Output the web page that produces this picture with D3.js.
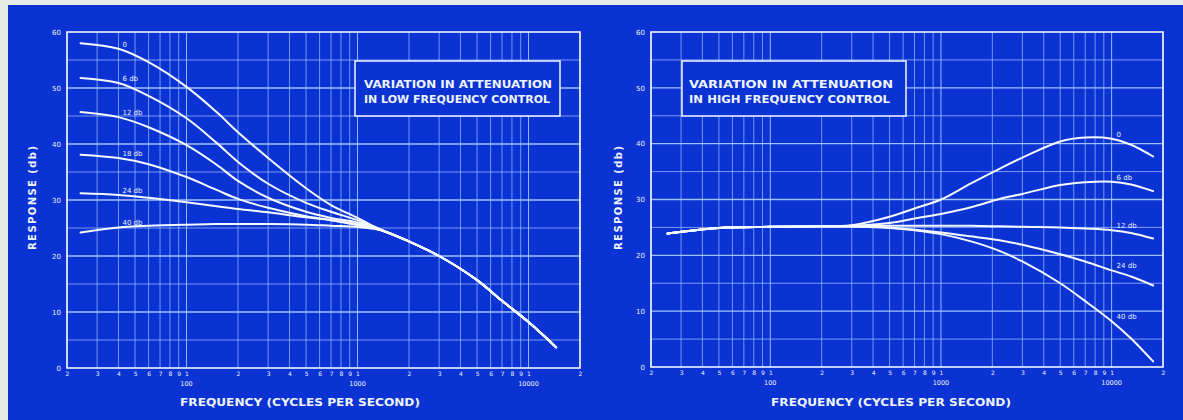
<!DOCTYPE html>
<html>
<head>
<meta charset="utf-8">
<script src="https://cdn.jsdelivr.net/npm/d3@7/dist/d3.min.js"></script>
<style>
  body { margin: 0; background: #e6ebe6; }
  svg { display: block; }
  text { font-family: "DejaVu Sans", sans-serif; fill: #eef4ff; }
</style>
</head>
<body>
<svg id="chart" width="1183" height="420"></svg>
<script>
// ---- data (frequency in cycles per second, response in db) ----
var lowFreq = [24, 40, 60, 100, 150, 200, 300, 500, 700, 1000, 1250, 1500, 2000, 3000, 5000, 7000, 10000, 14500];
var low0  = [58.0, 57.0, 54.6, 50.2, 45.7, 42.1, 37.5, 32.1, 29.1, 26.8, 25.3, 24.2, 22.6, 20.0, 15.7, 12.0, 8.2, 3.7];
var low6  = [51.8, 50.9, 48.6, 44.6, 40.2, 36.8, 32.9, 29.5, 27.9, 26.4, 25.2, 24.2, 22.6, 20.0, 15.7, 12.0, 8.2, 3.7];
var low12 = [45.7, 44.8, 43.0, 39.8, 36.3, 33.4, 30.4, 27.9, 26.8, 26.0, 25.1, 24.2, 22.6, 20.0, 15.7, 12.0, 8.2, 3.7];
var low18 = [38.1, 37.5, 36.4, 34.1, 31.8, 30.2, 28.6, 27.1, 26.4, 25.7, 25.0, 24.2, 22.6, 20.0, 15.7, 12.0, 8.2, 3.7];
var low24 = [31.2, 30.9, 30.4, 29.6, 28.9, 28.4, 27.8, 26.9, 26.4, 25.5, 24.95, 24.2, 22.6, 20.0, 15.7, 12.0, 8.2, 3.7];
var low40 = [24.2, 25.1, 25.4, 25.6, 25.7, 25.7, 25.7, 25.6, 25.4, 25.2, 24.85, 24.2, 22.6, 20.0, 15.7, 12.0, 8.2, 3.7];
var lowNames = ["0", "6 db", "12 db", "18 db", "24 db", "40 db"];

var highFreq = [25, 50, 100, 200, 300, 500, 700, 1000, 1500, 2200, 3000, 5000, 7000, 10000, 13000, 17500];
var high0  = [23.9, 24.9, 25.1, 25.2, 25.4, 26.9, 28.4, 30.0, 32.9, 35.5, 37.5, 40.4, 41.1, 40.9, 39.8, 37.7];
var high6  = [23.9, 24.9, 25.1, 25.2, 25.3, 25.8, 26.6, 27.4, 28.6, 30.1, 31.0, 32.6, 33.1, 33.2, 32.7, 31.5];
var high12 = [23.9, 24.9, 25.1, 25.2, 25.3, 25.3, 25.3, 25.3, 25.3, 25.2, 25.1, 25.0, 24.8, 24.5, 24.0, 23.0];
var high24 = [23.9, 24.9, 25.1, 25.2, 25.15, 24.95, 24.6, 24.1, 23.4, 22.7, 21.9, 20.2, 18.9, 17.3, 16.2, 14.6];
var high40 = [23.9, 24.9, 25.1, 25.2, 25.15, 24.9, 24.5, 23.8, 22.5, 20.8, 18.9, 15.0, 11.8, 8.2, 5.1, 1.0];
var highNames = ["0", "6 db", "12 db", "24 db", "40 db"];

var yTickLabels = ["0", "10", "20", "30", "40", "50", "60"];
var decadeLabels = ["100", "1000", "10000"];

var blue = "#0b32d2";
var svg = d3.select("#chart");
svg.append("rect")
	.attr("x", 8).attr("y", 5)
	.attr("width", 1175).attr("height", 415)
	.attr("fill", blue);

function panel(p) {
	var x = d3.scaleLog().domain([20, 20000]).range([p.left, p.right]);
	var y = d3.scaleLinear().domain([0, 60]).range([p.bottom, p.top]);
	var g = svg.append("g");

	// grid
	g.selectAll(".vg").data(x.ticks()).enter().append("line")
		.attr("x1", function (d) { return x(d); })
		.attr("x2", function (d) { return x(d); })
		.attr("y1", p.top).attr("y2", p.bottom)
		.attr("stroke", "#9cc2ff")
		.attr("stroke-opacity", function (d) { return String(d).charAt(0) == "1" ? 0.95 : 0.7; })
		.attr("stroke-width", 1);

	g.selectAll(".hg").data(d3.range(5, 60, 5)).enter().append("line")
		.attr("x1", p.left).attr("x2", p.right)
		.attr("y1", function (d) { return y(d); })
		.attr("y2", function (d) { return y(d); })
		.attr("stroke", "#a8c8ff")
		.attr("stroke-opacity", function (d) { return d % 10 == 0 ? 0.95 : 0.7; })
		.attr("stroke-width", function (d) { return d % 10 == 0 ? 1.3 : 1; });

	// frame
	g.append("rect")
		.attr("x", p.left).attr("y", p.top)
		.attr("width", p.right - p.left).attr("height", p.bottom - p.top)
		.attr("fill", "none").attr("stroke", "#f2f6ff").attr("stroke-width", 1.6);

	// y axis labels
	var ya = d3.axisLeft(y).tickValues(d3.range(0, 70, 10))
		.tickSize(0).tickPadding(6)
		.tickFormat(function (d, i) { return yTickLabels[i]; });
	var yg = g.append("g").attr("transform", "translate(" + p.left + ",0)").call(ya);
	yg.select(".domain").remove();
	yg.selectAll("text").style("font-size", "7px").attr("fill", "#dfe9ff");

	// x axis labels (single digits), decade labels below
	var xa = d3.axisBottom(x).tickValues(x.ticks())
		.tickSize(0).tickPadding(4)
		.tickFormat(function (d) { return String(d).charAt(0); });
	var xg = g.append("g").attr("transform", "translate(0," + p.bottom + ")").call(xa);
	xg.select(".domain").remove();
	xg.selectAll("text").style("font-size", "6px").attr("fill", "#dfe9ff");

	g.selectAll(".dec").data(decadeLabels).enter().append("text")
		.attr("x", function (d) { return x(+d); })
		.attr("y", p.bottom + 18)
		.attr("text-anchor", "middle")
		.style("font-size", "6.5px")
		.attr("fill", "#dfe9ff")
		.text(function (d) { return d; });

	// axis titles
	g.append("text")
		.attr("x", p.xTitle).attr("y", 406)
		.attr("text-anchor", "middle")
		.style("font-size", "11px").style("font-weight", "bold")
		.attr("textLength", 240).attr("lengthAdjust", "spacingAndGlyphs")
		.text("FREQUENCY (CYCLES PER SECOND)");

	g.append("text")
		.attr("transform", "translate(" + p.yTitle + ",198) rotate(-90)")
		.attr("text-anchor", "middle")
		.style("font-size", "10px").style("font-weight", "bold")
		.attr("textLength", 104).attr("lengthAdjust", "spacing")
		.text("RESPONSE  (db)");

	// note box
	g.append("rect")
		.attr("x", p.box[0]).attr("y", 61)
		.attr("width", p.box[1] - p.box[0]).attr("height", 55)
		.attr("fill", blue).attr("stroke", "#f2f6ff").attr("stroke-width", 1.5);
	p.note.forEach(function (t, i) {
		g.append("text")
			.attr("x", p.box[0] + p.notePad).attr("y", 88 + i * 15)
			.style("font-size", "10.5px").style("font-weight", "bold")
			.attr("textLength", p.noteLen[i]).attr("lengthAdjust", "spacingAndGlyphs")
			.text(t);
	});

	// curves
	var line = d3.line()
		.x(function (d) { return x(d[0]); })
		.y(function (d) { return y(d[1]); })
		.curve(d3.curveCatmullRom.alpha(0.5));

	p.series.forEach(function (s, i) {
		var pts = d3.zip(p.freq, s);
		g.append("path")
			.attr("d", line(pts))
			.attr("fill", "none")
			.attr("stroke", "#f4f8ff")
			.attr("stroke-width", 2)
			.attr("stroke-linecap", "round");
		var k = p.labelAt;
		g.append("text")
			.attr("x", x(p.freq[k]) + p.labelDx)
			.attr("y", y(s[k]) - 2)
			.style("font-size", "7px")
			.attr("fill", "#eef4ff")
			.text(p.names[i]);
	});
}

panel({
	left: 67, right: 580, top: 32, bottom: 368,
	xTitle: 300, yTitle: 36,
	box: [355, 560], notePad: 9, noteLen: [188, 186],
	note: ["VARIATION  IN  ATTENUATION", "IN LOW FREQUENCY CONTROL"],
	freq: lowFreq, series: [low0, low6, low12, low18, low24, low40],
	names: lowNames, labelAt: 1, labelDx: 4
});

panel({
	left: 651, right: 1163, top: 32, bottom: 367,
	xTitle: 891, yTitle: 622,
	box: [682, 906], notePad: 7, noteLen: [204, 201],
	note: ["VARIATION  IN  ATTENUATION", "IN HIGH FREQUENCY CONTROL"],
	freq: highFreq, series: [high0, high6, high12, high24, high40],
	names: highNames, labelAt: 13, labelDx: 5
});
</script>
</body>
</html>
